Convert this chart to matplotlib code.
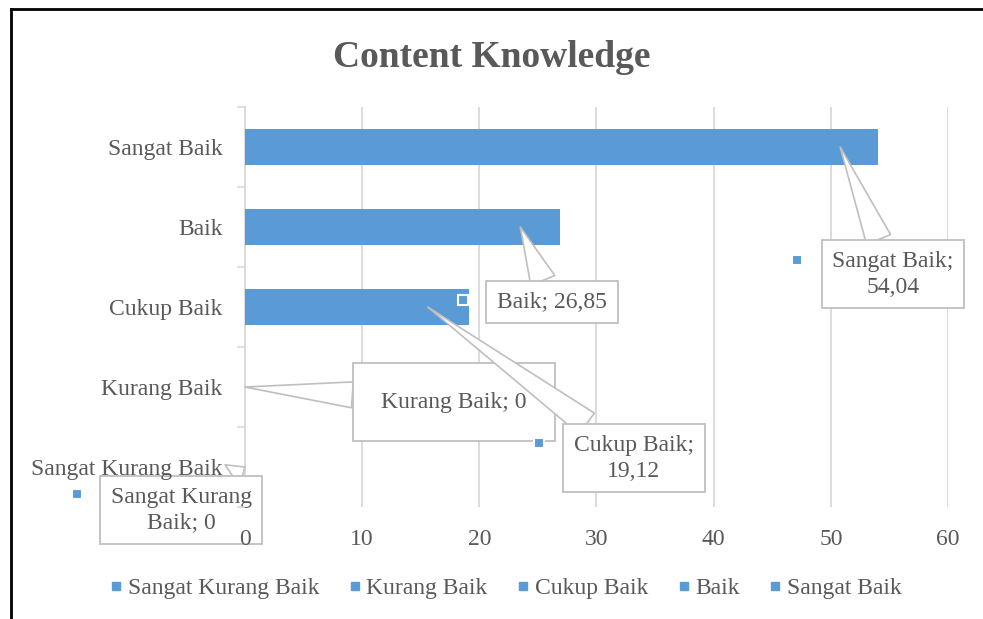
import matplotlib
matplotlib.use("Agg")
import matplotlib.pyplot as plt
from matplotlib.lines import Line2D

categories = ["Sangat Kurang Baik", "Kurang Baik", "Cukup Baik", "Baik", "Sangat Baik"]
values = [0, 0, 19.12, 26.85, 54.04]
x_ticks = [0, 10, 20, 30, 40, 50, 60]

# callout text position (data coords) and the point the wedge points to
label_text = ["Sangat Kurang\nBaik; 0", "Kurang Baik; 0", "Cukup Baik;\n19,12", "Baik; 26,85", "Sangat Baik;\n54,04"]
label_pos = [(-5.45, -0.54), (17.85, 0.81), (33.2, 0.11), (26.2, 2.06), (55.3, 2.41)]
label_pad = [0.45, 1.2, 0.45, 0.45, 0.45]
label_tip = [(0, 0), (0, 1), (15.6, 2.0), (23.5, 3.0), (50.8, 4.0)]
key_pos = [(-14.3, -0.34), None, (25.1, 0.3), (18.6, 2.09), (47.1, 2.59)]

bar_color = "#5B9BD5"
text_color = "#595959"
grid_color = "#D9D9D9"
box_edge = "#BFBFBF"

plt.rcParams['font.family'] = ['Liberation Serif', 'DejaVu Serif']

fig = plt.figure(figsize=(9.83, 6.19), dpi=100)
ax = fig.add_axes([0.2492, 0.1809, 0.7152, 0.6462])
ax.set_axisbelow(False)  # tick labels above the callout boxes

for t in x_ticks:
    ax.axvline(t, color=grid_color, linewidth=1.3, zorder=0)
ax.barh(range(len(categories)), values, height=0.45, color=bar_color, zorder=2)
ax.set_xlim(0, 60)
ax.set_ylim(-0.5, 4.5)
ax.set_xticks(x_ticks)
ax.set_xticklabels([str(t) for t in x_ticks], fontsize=17, color=text_color)
ax.set_yticks(range(len(categories)))
ax.set_yticklabels(categories, fontsize=17, color=text_color)
ax.tick_params(axis='x', length=0, pad=16)
ax.tick_params(axis='y', length=0, pad=16)
# minor ticks between categories on the y axis
ax.set_yticks([i - 0.5 for i in range(len(categories) + 1)], minor=True)
ax.tick_params(axis='y', which='minor', length=6, color=grid_color, width=1.2, direction='out')
for side in ['top', 'right', 'bottom']:
    ax.spines[side].set_visible(False)
ax.spines['left'].set_color(grid_color)
ax.spines['left'].set_linewidth(1.3)
ax.spines['left'].set_zorder(1)

for txt, pos, tip, pad in zip(label_text, label_pos, label_tip, label_pad):
    ax.annotate(txt, xy=tip, xytext=pos, fontsize=17, color=text_color,
                ha='center', va='center', linespacing=1.3, annotation_clip=False, zorder=2.4,
                bbox=dict(boxstyle=f'square,pad={pad}', fc='white', ec=box_edge, lw=1.3),
                arrowprops=dict(arrowstyle='wedge,tail_width=1.1', fc='white', ec=box_edge,
                                lw=1.2, shrinkA=0, shrinkB=0))

for kp in key_pos:
    if kp is None:
        continue
    ax.plot([kp[0]], [kp[1]], marker='s', markersize=6.5, color=bar_color,
            markeredgecolor='white', markeredgewidth=1.5, clip_on=False, zorder=6)

fig.suptitle("Content Knowledge", fontsize=27, fontweight='bold', color=text_color, y=0.935)

handles = [Line2D([], [], marker='s', linestyle='none', markersize=6, color=bar_color)
           for _ in categories]
fig.legend(handles, categories, loc='center', bbox_to_anchor=(0.513, 0.05), ncol=5,
           frameon=False, fontsize=17, labelcolor=text_color, handletextpad=0.1,
           columnspacing=1.1, handlelength=0.8)

# border like the pasted chart frame
fig.add_artist(Line2D([0.0115, 0.0115], [0, 0.985], color='black', lw=2, transform=fig.transFigure))
fig.add_artist(Line2D([0.0115, 1.0], [0.985, 0.985], color='black', lw=2, transform=fig.transFigure))

fig.savefig("out.png", dpi=100)
